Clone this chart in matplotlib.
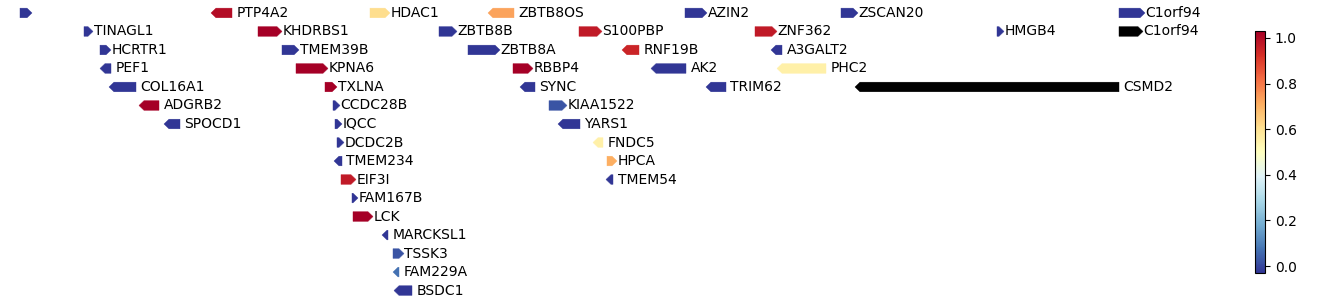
import numpy as np
import matplotlib
matplotlib.use("Agg")
import matplotlib.pyplot as plt
from matplotlib.patches import Polygon
from matplotlib.colors import Normalize
from matplotlib.cm import ScalarMappable

# genes: nombre, inicio, fin, hebra, fila, valor (NaN = sin dato)
genes = ["", "PTP4A2", "HDAC1", "ZBTB8OS", "AZIN2", "ZSCAN20", "C1orf94",
         "TINAGL1", "KHDRBS1", "ZBTB8B", "S100PBP", "ZNF362", "HMGB4", "C1orf94",
         "HCRTR1", "TMEM39B", "ZBTB8A", "RNF19B", "A3GALT2",
         "PEF1", "KPNA6", "RBBP4", "AK2", "PHC2",
         "COL16A1", "TXLNA", "SYNC", "TRIM62", "CSMD2",
         "ADGRB2", "CCDC28B", "KIAA1522",
         "SPOCD1", "IQCC", "YARS1",
         "DCDC2B", "FNDC5",
         "TMEM234", "HPCA",
         "EIF3I", "TMEM54",
         "FAM167B", "LCK", "MARCKSL1", "TSSK3", "FAM229A", "BSDC1"]
starts = [20, 211, 370, 488, 685, 841, 1119,
          84, 258, 439, 579, 755, 997, 1119,
          100, 282, 468, 622, 771,
          100, 296, 513, 651, 777,
          109, 325, 520, 706, 855,
          139, 333, 549,
          164, 335, 558,
          337, 593,
          334, 607,
          341, 606,
          352, 353, 382, 393, 393, 394]
ends = [32, 232, 390, 514, 707, 858, 1145,
        93, 282, 457, 602, 777, 1004, 1143,
        111, 299, 500, 639, 782,
        111, 328, 533, 686, 826,
        136, 337, 535, 726, 1119,
        159, 340, 567,
        180, 342, 580,
        344, 603,
        342, 617,
        356, 613,
        358, 373, 388, 404, 399, 412]
strands = ["+", "-", "+", "-", "+", "+", "+",
           "+", "+", "+", "+", "+", "+", "+",
           "+", "+", "+", "-", "-",
           "-", "+", "+", "-", "-",
           "-", "+", "-", "-", "-",
           "-", "+", "+",
           "-", "+", "-",
           "+", "-",
           "-", "+",
           "+", "-",
           "+", "+", "-", "+", "-", "-"]
rows = [0, 0, 0, 0, 0, 0, 0,
        1, 1, 1, 1, 1, 1, 1,
        2, 2, 2, 2, 2,
        3, 3, 3, 3, 3,
        4, 4, 4, 4, 4,
        5, 5, 5,
        6, 6, 6,
        7, 7,
        8, 8,
        9, 9,
        10, 11, 12, 13, 14, 15]
values = [-0.03, 1.0, 0.61, 0.73, -0.03, -0.03, -0.03,
          -0.03, 1.03, -0.03, 0.97, 0.97, -0.03, np.nan,
          -0.03, -0.03, -0.03, 0.95, -0.03,
          -0.03, 1.03, 1.03, -0.03, 0.55,
          -0.03, 1.03, -0.03, -0.03, np.nan,
          1.03, -0.03, 0.02,
          -0.03, -0.03, -0.03,
          -0.03, 0.55,
          -0.03, 0.71,
          0.97, -0.03,
          -0.03, 1.03, -0.03, 0.02, 0.07, -0.03]

cmap = plt.get_cmap("RdYlBu_r").copy()
cmap.set_bad("black")
norm = Normalize(vmin=-0.03, vmax=1.03)

fig = plt.figure(figsize=(13.38, 3.05), dpi=100)
ax = fig.add_axes([0, 0, 0.92, 1])
ax.set_xlim(0, 0.92 * 1338)
ax.set_ylim(15.78, -0.70)
ax.axis("off")

h = 0.52  # alto de la flecha (en filas)
for name, s, e, st, r, v in zip(genes, starts, ends, strands, rows, values):
    hl = min(5, e - s)
    if st == "+":
        pts = [(s, r - h / 2), (e - hl, r - h / 2), (e, r), (e - hl, r + h / 2), (s, r + h / 2)]
        tx = e + 0.5
    else:
        pts = [(e, r - h / 2), (s + hl, r - h / 2), (s, r), (s + hl, r + h / 2), (e, r + h / 2)]
        tx = e + 4.5
    color = cmap(norm(v)) if not np.isnan(v) else "black"
    ax.add_patch(Polygon(pts, closed=True, facecolor=color, edgecolor=color, linewidth=0.3))
    ax.text(tx, r, name, fontsize=10, va="center", ha="left")

# barra de color
cax = fig.add_axes([1255 / 1338, 32 / 305, 10 / 1338, 242 / 305])
sm = ScalarMappable(norm=norm, cmap=cmap)
cb = fig.colorbar(sm, cax=cax, ticks=[0.0, 0.2, 0.4, 0.6, 0.8, 1.0])
cb.ax.tick_params(labelsize=10)
cb.outline.set_linewidth(0.8)

plt.savefig("out.png", dpi=100)
